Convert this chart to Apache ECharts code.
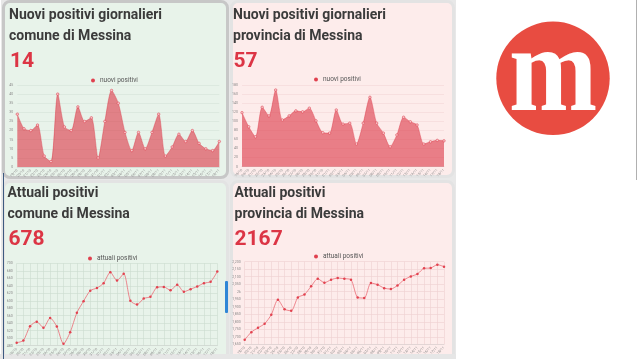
<!DOCTYPE html>
<html><head><meta charset="utf-8">
<script src="https://cdn.jsdelivr.net/npm/echarts@6/dist/echarts.min.js"></script>
<style>
html,body{margin:0;padding:0;background:#fff;overflow:hidden}
#wrap{position:relative;width:637px;height:359px;background:#fff}
.b{position:absolute;box-sizing:border-box}
#c{position:absolute;left:0;top:0;width:637px;height:359px}
</style>
</head><body>
<div id="wrap">
  <div class="b" style="left:1px;top:0;width:455px;height:359px;background:#e8e8e8"></div>
  <div class="b" style="left:2px;top:0;width:227px;height:179px;border:3px solid #c7c7c7;border-radius:8px;background:#e8f3ea"></div>
  <div class="b" style="left:230px;top:0;width:225px;height:178px;border:3px solid #e3e3e3;border-radius:8px;background:#fdeceb"></div>
  <div class="b" style="left:2px;top:180px;width:227px;height:190px;border:3px solid #e3e3e3;border-radius:8px;background:#e8f3ea"></div>
  <div class="b" style="left:230px;top:180px;width:225px;height:190px;border:3px solid #e3e3e3;border-radius:8px;background:#fdeceb"></div>
  <div class="b" style="left:0;top:354px;width:456px;height:5px;background:#e6e6e6"></div>
  <div class="b" style="left:2.5px;top:173px;width:1.3px;height:186px;background:#3d5a80"></div>
  <div class="b" style="left:225px;top:281px;width:3px;height:32px;background:#2f86d6;border-radius:1px"></div>
  <div class="b" style="left:636px;top:0;width:1px;height:180px;background:#b0b0b0"></div>
  <div id="c"></div>
</div>
<script>
// ---- data ----
const dates = ['19/10','20/10','21/10','22/10','23/10','24/10','25/10','26/10','27/10','28/10','29/10','30/10','31/10',
  '01/11','02/11','03/11','04/11','05/11','06/11','07/11','08/11','09/11','10/11','11/11','12/11','13/11','14/11','15/11','16/11','17/11','18/11'];
const nuoviComune = [29,21,20,23,6,3,40,22,20,33,25,27,5,25,42,35,19,9,19,10,19,29,6,11,18,14,20,13,10,9,14];
const nuoviProvincia = [119,88,66,131,112,169,103,112,123,121,129,101,75,74,125,94,96,50,96,153,96,74,44,70,109,99,92,50,55,58,57];
const attualiComune = [488,494,532,544,528,554,531,485,516,568,599,627,634,647,676,654,672,600,590,606,611,636,637,628,643,624,631,638,647,651,678];
const attualiProvincia = [1680,1731,1760,1787,1847,1947,1884,1873,1962,1982,2036,2087,2060,2080,2091,2087,2080,1962,1958,2058,2047,2024,2018,2042,2080,2102,2118,2156,2158,2180,2167];
const titles = ['Nuovi positivi giornalieri\ncomune di Messina','Nuovi positivi giornalieri\nprovincia di Messina',
  'Attuali positivi\ncomune di Messina','Attuali positivi\nprovincia di Messina'];
const seriesNames = ['nuovi positivi','nuovi positivi','attuali positivi','attuali positivi'];
const yTicks1 = {min:0,max:45,interval:5};
const yTicks2 = {min:0,max:180,interval:20};
const yTicks3 = {min:480,max:700,interval:20};
const yTicks4 = {min:1650,max:2200,interval:50};

const last = a => String(a[a.length-1]);
const RED = '#dc3545';
const FONT = 'Roboto';

const titleStyle = {fontFamily:FONT,fontSize:14,fontWeight:'bold',color:'#3b3b3b',lineHeight:21};
const numStyle = {fontFamily:FONT,fontSize:21,fontWeight:'bold',color:RED,lineHeight:22};
const legendBase = {icon:'circle',itemWidth:4,itemHeight:4,padding:0,itemGap:0,
  itemStyle:{color:'#e0404e',borderWidth:0},
  textStyle:{fontFamily:FONT,fontSize:6.5,color:'#555',padding:[0,0,0,0]}};

const grids = [
  {left:17.3,top:85,width:202,height:82},
  {left:242,top:85,width:202,height:81.7},
  {left:16.7,top:263.3,width:200.6,height:82.4},
  {left:244.7,top:261.7,width:199.3,height:82.6}
];
const splitCols = ['#d3e3d7','#f4d7d7','#cbdccf','#efd0d0'];
const yTicks = [yTicks1,yTicks2,yTicks3,yTicks4];

const xAxes = grids.map((g,i)=>({
  type:'category',gridIndex:i,data:dates,boundaryGap:false,
  axisLine:{show:true,lineStyle:{color:'#cfcfcf',width:0.5}},
  axisTick:{show:false},
  axisLabel:{interval:0,rotate:45,fontSize:3.5,color:'#888',margin:3,fontFamily:FONT},
  splitLine:{show:i>=2,lineStyle:{color:splitCols[i],width:0.6}}
}));
const yAxes = grids.map((g,i)=>({
  type:'value',gridIndex:i,min:yTicks[i].min,max:yTicks[i].max,interval:yTicks[i].interval,
  axisLine:{show:false},axisTick:{show:false},
  axisLabel:{fontSize:3.5,color:'#888',margin:4,fontFamily:FONT,
    formatter: i===3 ? (v=> v===2000 ? '2k' : v.toLocaleString('en-US')) : (v=>String(v))},
  splitLine:{show:true,lineStyle:{color:splitCols[i],width:0.6}}
}));

const areaSeries = (i,data)=>({
  name:seriesNames[i],type:'line',xAxisIndex:i,yAxisIndex:i,data:data,smooth:0.25,
  symbol:'circle',symbolSize:2.5,showSymbol:true,
  itemStyle:{color:'#f6c9cc',borderColor:RED,borderWidth:0.5},
  lineStyle:{color:'rgba(220,53,69,0.7)',width:0.6},
  areaStyle:{color:'rgba(220,53,69,0.6)',opacity:1}
});
const lineSeries = (i,data)=>({
  name:seriesNames[i],type:'line',xAxisIndex:i,yAxisIndex:i,data:data,smooth:0.25,
  symbol:'circle',symbolSize:2.5,showSymbol:true,
  itemStyle:{color:'#e2424f'},
  lineStyle:{color:'#ea6b75',width:0.8}
});

const chart = echarts.init(document.getElementById('c'),null,{renderer:'canvas'});
chart.setOption({
  animation:false,
  backgroundColor:'transparent',
  title:[
    {text:titles[0],left:9,top:4.5,padding:0,textStyle:titleStyle},
    {text:last(nuoviComune),left:10,top:51,padding:0,textStyle:numStyle},
    {text:titles[1],left:233,top:4.5,padding:0,textStyle:titleStyle},
    {text:last(nuoviProvincia),left:233.5,top:51,padding:0,textStyle:numStyle},
    {text:titles[2],left:7.5,top:182.5,padding:0,textStyle:titleStyle},
    {text:last(attualiComune),left:8.5,top:229,padding:0,textStyle:numStyle},
    {text:titles[3],left:234.5,top:182.5,padding:0,textStyle:titleStyle},
    {text:last(attualiProvincia),left:234.5,top:229,padding:0,textStyle:numStyle}
  ],
  legend:[
    Object.assign({left:91,top:77,data:[seriesNames[0]]},legendBase),
    Object.assign({left:314,top:76,data:[seriesNames[1]]},legendBase),
    Object.assign({left:88,top:255,data:[seriesNames[2]]},legendBase),
    Object.assign({left:314,top:253,data:[seriesNames[3]]},legendBase)
  ],
  grid:grids,
  xAxis:xAxes,
  yAxis:yAxes,
  series:[
    areaSeries(0,nuoviComune),
    areaSeries(1,nuoviProvincia),
    lineSeries(2,attualiComune),
    lineSeries(3,attualiProvincia)
  ],
  graphic:[
    {type:'circle',shape:{cx:553,cy:78.3,r:56.7},style:{fill:'#e84c41'}},
    {type:'text',x:553,y:140,scaleX:0.86,style:{text:'m',fill:'#fff',
      font:'bold 123px "Liberation Serif"',textAlign:'center',textVerticalAlign:'bottom'}}
  ]
});
</script>
</body></html>
